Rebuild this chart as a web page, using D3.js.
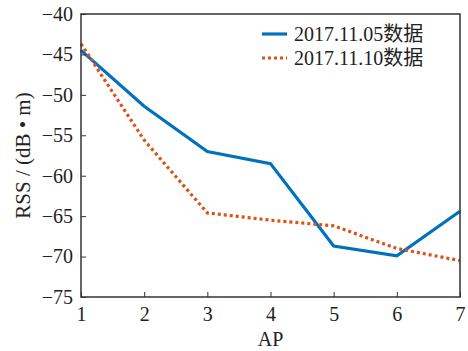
<!DOCTYPE html>
<html>
<head>
<meta charset="utf-8">
<script src="https://cdn.jsdelivr.net/npm/d3@7"></script>
<style>
body { margin: 0; background: #fff; }
text { font-family: "Liberation Serif", "Times New Roman", "Noto Sans CJK SC", serif; fill: #222; }
</style>
</head>
<body>
<svg id="chart" width="468" height="351"></svg>
<script>
var aps = [1, 2, 3, 4, 5, 6, 7];
var rss1105 = [-44.5, -51.4, -57.0, -58.5, -68.7, -69.9, -64.4];
var rss1110 = [-43.7, -55.6, -64.6, -65.5, -66.2, -69.0, -70.5];
var yTicks = [-40, -45, -50, -55, -60, -65, -70, -75];
var seriesNames = ["2017.11.05数据", "2017.11.10数据"];

(function() {
	var mLeft = 81, mRight = 460, mTop = 14, mBottom = 297;
	var fontFam = "Liberation Serif, Times New Roman, Noto Sans CJK SC, serif";
	var fontSize = 20;

	var svg = d3.select("#chart");

	var x = d3.scaleLinear().domain([1, 7]).range([mLeft, mRight]);
	var y = d3.scaleLinear().domain([-75, -40]).range([mBottom, mTop]);

	var line = d3.line()
		.x(function(d, i) { return x(aps[i]); })
		.y(function(d) { return y(d); });

	svg.append("path").datum(rss1105)
		.attr("d", line).attr("fill", "none")
		.attr("stroke", "#0072BD").attr("stroke-width", 3.2);

	svg.append("path").datum(rss1110)
		.attr("d", line).attr("fill", "none")
		.attr("stroke", "#D95319").attr("stroke-width", 3.2)
		.attr("stroke-dasharray", "3,3");

	// frame
	svg.append("rect")
		.attr("x", mLeft).attr("y", mTop)
		.attr("width", mRight - mLeft).attr("height", mBottom - mTop)
		.attr("fill", "none").attr("stroke", "#333").attr("stroke-width", 1.5);

	var xAxis = svg.append("g")
		.attr("transform", "translate(0," + mBottom + ")")
		.call(d3.axisBottom(x).tickValues(aps).tickSize(-5).tickPadding(10)
			.tickFormat(d3.format("d")));
	xAxis.attr("font-family", fontFam).attr("font-size", fontSize);
	xAxis.select(".domain").remove();
	xAxis.selectAll("line").attr("stroke", "#333");
	xAxis.selectAll("text").attr("fill", "#222").style("font-size", fontSize + "px");

	var yAxis = svg.append("g")
		.attr("transform", "translate(" + mLeft + ",0)")
		.call(d3.axisLeft(y).tickValues(yTicks).tickSize(-5).tickPadding(8)
			.tickFormat(function(d) { return "\u2212" + Math.abs(d); }));
	yAxis.attr("font-family", fontFam).attr("font-size", fontSize);
	yAxis.select(".domain").remove();
	yAxis.selectAll("line").attr("stroke", "#333");
	yAxis.selectAll("text").attr("fill", "#222").style("font-size", fontSize + "px");

	svg.append("text")
		.attr("x", (mLeft + mRight) / 2).attr("y", 346)
		.attr("text-anchor", "middle").style("font-size", fontSize + "px")
		.text("AP");

	svg.append("text")
		.attr("transform", "translate(30," + ((mTop + mBottom) / 2) + ") rotate(-90)")
		.attr("text-anchor", "middle").style("font-size", "21px")
		.text("RSS / (dB \u2022 m)");

	// legend
	var legend = svg.append("g");
	var colors = ["#0072BD", "#D95319"];
	var dashes = [null, "3,3"];
	seriesNames.forEach(function(name, i) {
		var ly = 34 + i * 24;
		legend.append("line")
			.attr("x1", 262).attr("x2", 287).attr("y1", ly).attr("y2", ly)
			.attr("stroke", colors[i]).attr("stroke-width", 3.2)
			.attr("stroke-dasharray", dashes[i]);
		legend.append("text")
			.attr("x", 294).attr("y", ly + 7)
			.style("font-size", "20px")
			.text(name);
	});
})();
</script>
</body>
</html>
